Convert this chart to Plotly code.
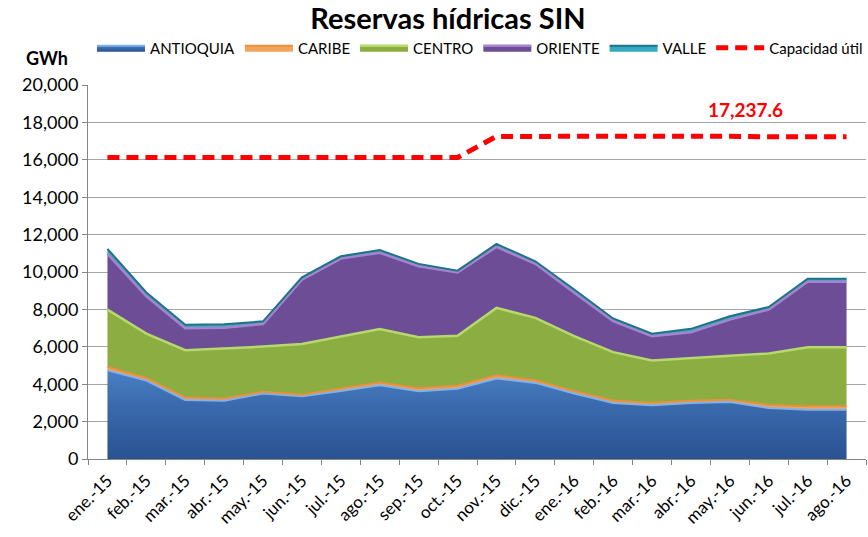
import plotly.graph_objects as go

months = ["ene.-15", "feb.-15", "mar.-15", "abr.-15", "may.-15", "jun.-15", "jul.-15",
          "ago.-15", "sep.-15", "oct.-15", "nov.-15", "dic.-15", "ene.-16", "feb.-16",
          "mar.-16", "abr.-16", "may.-16", "jun.-16", "jul.-16", "ago.-16"]

antioquia = [4740, 4190, 3160, 3120, 3500, 3350, 3640, 3940, 3620, 3760,
             4300, 4070, 3500, 3000, 2870, 3000, 3050, 2730, 2640, 2640]
caribe = [180, 145, 125, 110, 90, 90, 125, 145, 160, 160,
          180, 145, 125, 125, 125, 110, 125, 160, 180, 180]
centro = [3070, 2370, 2530, 2670, 2420, 2710, 2800, 2870, 2730, 2670,
          3600, 3330, 2940, 2590, 2270, 2300, 2350, 2750, 3160, 3160]
oriente = [2980, 2000, 1180, 1120, 1210, 3440, 4150, 4070, 3800, 3390,
           3260, 2890, 2320, 1660, 1300, 1370, 1930, 2350, 3500, 3500]
valle = [270, 200, 180, 180, 140, 125, 125, 145, 125, 90,
         160, 140, 180, 140, 140, 180, 180, 140, 160, 160]
capacidad = [16120, 16120, 16070, 16060, 16070, 16100, 16110, 16110, 16110, 16120,
             17250, 17260, 17260, 17230, 17250, 17260, 17260, 17230, 17237.6, 17237.6]

y_ticks = [0, 2000, 4000, 6000, 8000, 10000, 12000, 14000, 16000, 18000, 20000]

FONT = "Lato, Carlito, Calibri, sans-serif"

fig = go.Figure()

fig.add_trace(go.Scatter(
    x=months, y=antioquia, name="ANTIOQUIA", stackgroup="one", mode="lines",
    line=dict(color="#7fb2ea", width=2),
    fillgradient=dict(type="vertical", start=0, stop=4800,
                      colorscale=[[0, "#2a5291"], [0.6, "#3a6aad"], [1, "#4a80c4"]]),
))
fig.add_trace(go.Scatter(
    x=months, y=caribe, name="CARIBE", stackgroup="one", mode="lines",
    line=dict(color="#e8913f", width=2), fillcolor="#f0a45c",
))
fig.add_trace(go.Scatter(
    x=months, y=centro, name="CENTRO", stackgroup="one", mode="lines",
    line=dict(color="#b6d96c", width=2.5), fillcolor="#8cad42",
))
fig.add_trace(go.Scatter(
    x=months, y=oriente, name="ORIENTE", stackgroup="one", mode="lines",
    line=dict(color="#a483cf", width=2.5), fillcolor="#6d4d96",
))
fig.add_trace(go.Scatter(
    x=months, y=valle, name="VALLE", stackgroup="one", mode="lines",
    line=dict(color="#1f7384", width=2), fillcolor="#35a9c2",
))
fig.add_trace(go.Scatter(
    x=months, y=capacidad, name="Capacidad útil", mode="lines",
    line=dict(color="#ff0000", width=5, dash="12px,7px"),
))

fig.add_annotation(x=16.4, y=18700, xref="x", yref="y", text="<b>17,237.6</b>",
                   showarrow=False, font=dict(family=FONT, size=19, color="#ff0000"))
fig.add_annotation(x=-0.0527, y=1.072, xref="paper", yref="paper", text="<b>GWh</b>",
                   xanchor="center", yanchor="middle",
                   showarrow=False, font=dict(family=FONT, size=18, color="black"))

fig.update_layout(
    width=868, height=537,
    margin=dict(l=88, r=2, t=85, b=78),
    paper_bgcolor="white", plot_bgcolor="white",
    title=dict(text="<b>Reservas hídricas SIN</b>", x=448/868, xanchor="center",
               y=1 - 19/537, yanchor="middle",
               font=dict(family=FONT, size=29, color="black")),
    legend=dict(orientation="h", x=0.545, xanchor="center",
                yref="container", y=1 - 48/537, yanchor="middle",
                traceorder="normal", itemwidth=48,
                font=dict(family=FONT, size=15, color="black"),
                bgcolor="rgba(0,0,0,0)"),
    showlegend=True,
    xaxis=dict(type="category", range=[-0.5, 19.5], tickson="boundaries",
               automargin=False,
               ticks="outside", ticklen=5, tickcolor="#868686",
               showline=True, linecolor="#868686", linewidth=1,
               showgrid=False, tickangle=-45, ticklabelstandoff=4,
               tickfont=dict(family=FONT, size=17, color="black")),
    yaxis=dict(range=[0, 20000], tickvals=y_ticks, tickformat=",",
               automargin=False,
               ticks="outside", ticklen=5, tickcolor="#868686",
               showline=True, linecolor="#868686", linewidth=1,
               showgrid=True, gridcolor="#a6a6a6", gridwidth=1, zeroline=False,
               tickfont=dict(family=FONT, size=18, color="black")),
)

fig.write_html("out.html", config={"displayModeBar": False},
               post_script="document.body.style.margin='0';document.body.style.overflow='hidden';")
